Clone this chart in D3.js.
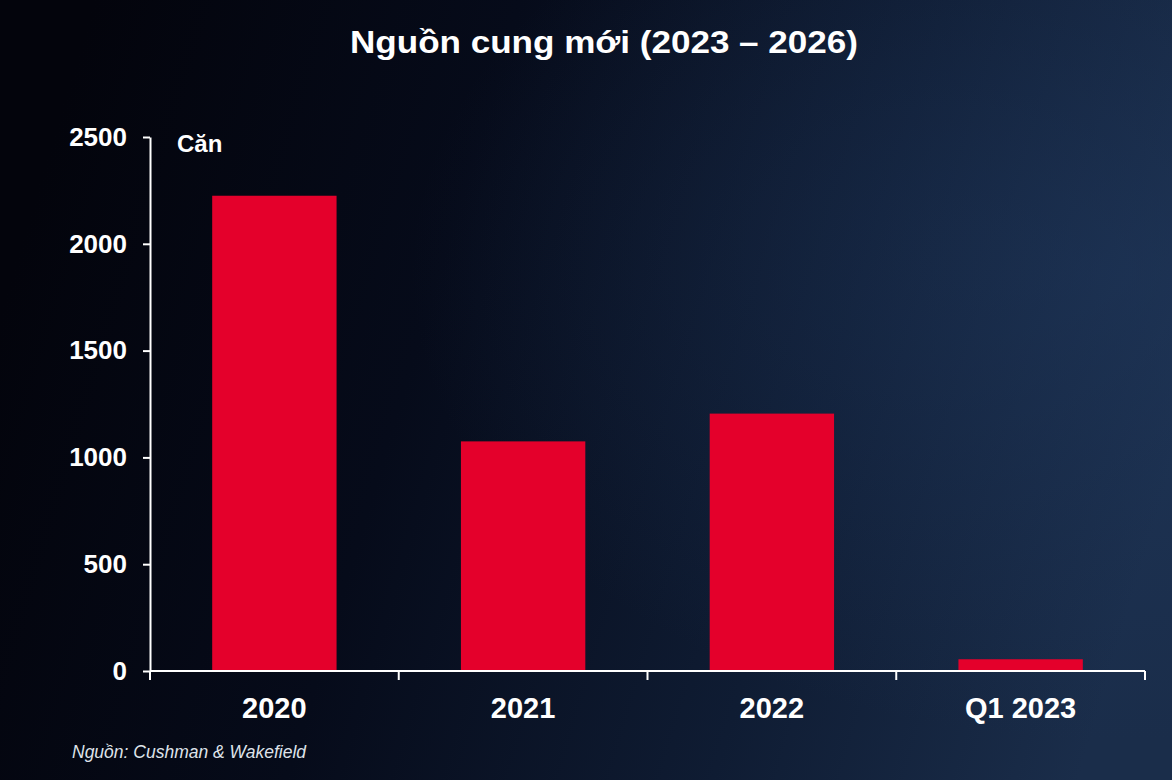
<!DOCTYPE html>
<html>
<head>
<meta charset="utf-8">
<script src="https://cdn.jsdelivr.net/npm/d3@7"></script>
<style>
  html, body { margin: 0; padding: 0; background: #04060f; }
  svg { display: block; font-family: "Liberation Sans", Arial, sans-serif; }
</style>
</head>
<body>
<div id="chart-area"></div>
<script>
// data
var categories = ["2020", "2021", "2022", "Q1 2023"];
var supply = [2225, 1075, 1205, 55];
var yTicks = [0, 500, 1000, 1500, 2000, 2500];

var W = 1172, H = 780;
var margin = { top: 137, right: 27, bottom: 109, left: 150 };
var width = W - margin.left - margin.right;
var height = H - margin.top - margin.bottom;

var svg = d3.select("#chart-area").append("svg")
    .attr("width", W)
    .attr("height", H);

// background gradient
var defs = svg.append("defs");
var bg = defs.append("linearGradient")
    .attr("id", "bg")
    .attr("x1", "0%").attr("y1", "40%")
    .attr("x2", "100%").attr("y2", "60%");
bg.append("stop").attr("offset", "0%").attr("stop-color", "#03040c");
bg.append("stop").attr("offset", "35%").attr("stop-color", "#060b1a");
bg.append("stop").attr("offset", "70%").attr("stop-color", "#0f1c33");
bg.append("stop").attr("offset", "100%").attr("stop-color", "#1a2d4a");

var glow = defs.append("radialGradient")
    .attr("id", "glow")
    .attr("cx", "95%").attr("cy", "35%").attr("r", "60%");
glow.append("stop").attr("offset", "0%").attr("stop-color", "#223c63").attr("stop-opacity", 0.45);
glow.append("stop").attr("offset", "100%").attr("stop-color", "#223c63").attr("stop-opacity", 0);

svg.append("rect").attr("width", W).attr("height", H).attr("fill", "url(#bg)");
svg.append("rect").attr("width", W).attr("height", H).attr("fill", "url(#glow)");

// title
svg.append("text")
    .attr("x", 350)
    .attr("y", 53)
    .attr("fill", "#ffffff")
    .attr("textLength", 508)
    .attr("lengthAdjust", "spacingAndGlyphs")
    .style("font-size", "32px")
    .style("font-weight", "bold")
    .text("Nguồn cung mới (2023 – 2026)");

var g = svg.append("g")
    .attr("transform", "translate(" + margin.left + "," + margin.top + ")");

var x = d3.scaleBand()
    .domain(categories)
    .range([0, width])
    .paddingInner(0.5)
    .paddingOuter(0.25);

var y = d3.scaleLinear()
    .domain([0, 2500])
    .range([height, 0]);

// bars
g.selectAll(".bar")
    .data(supply)
    .enter().append("rect")
    .attr("class", "bar")
    .attr("x", function (d, i) { return x(categories[i]); })
    .attr("y", function (d) { return y(d); })
    .attr("width", x.bandwidth())
    .attr("height", function (d) { return height - y(d); })
    .attr("fill", "#e4002b");

// y axis
var yAxis = g.append("g")
    .call(d3.axisLeft(y).tickValues(yTicks).tickFormat(d3.format("d"))
        .tickSize(7).tickPadding(16).tickSizeOuter(0));
yAxis.select(".domain").attr("stroke", "#ffffff").attr("stroke-width", 2);
yAxis.selectAll(".tick line").attr("stroke", "#ffffff").attr("stroke-width", 2);
yAxis.selectAll(".tick text")
    .attr("fill", "#ffffff")
    .style("font-size", "26px")
    .style("font-weight", "bold")
    .attr("font-family", null);

// x axis with ticks at category boundaries
var xAxisG = g.append("g")
    .attr("transform", "translate(0," + height + ")");
xAxisG.append("line")
    .attr("x1", 0).attr("x2", width)
    .attr("stroke", "#ffffff").attr("stroke-width", 2);
var bounds = [0].concat(categories.map(function (c) { return x(c) - x.step() * 0.25 + x.step(); }));
xAxisG.selectAll(".xtick")
    .data(bounds)
    .enter().append("line")
    .attr("x1", function (d) { return d; })
    .attr("x2", function (d) { return d; })
    .attr("y1", 0).attr("y2", 9)
    .attr("stroke", "#ffffff").attr("stroke-width", 2);
xAxisG.selectAll(".xlabel")
    .data(categories)
    .enter().append("text")
    .attr("x", function (d) { return x(d) + x.bandwidth() / 2; })
    .attr("y", 47)
    .attr("text-anchor", "middle")
    .attr("fill", "#ffffff")
    .style("font-size", "29px")
    .style("font-weight", "bold")
    .text(function (d) { return d; });

// unit label
svg.append("text")
    .attr("x", 177)
    .attr("y", 152)
    .attr("fill", "#ffffff")
    .style("font-size", "24px")
    .style("font-weight", "bold")
    .text("Căn");

// source
svg.append("text")
    .attr("x", 72)
    .attr("y", 758)
    .attr("fill", "#dfe3ea")
    .style("font-size", "17.5px")
    .style("font-style", "italic")
    .text("Nguồn: Cushman & Wakefield");
</script>
</body>
</html>
